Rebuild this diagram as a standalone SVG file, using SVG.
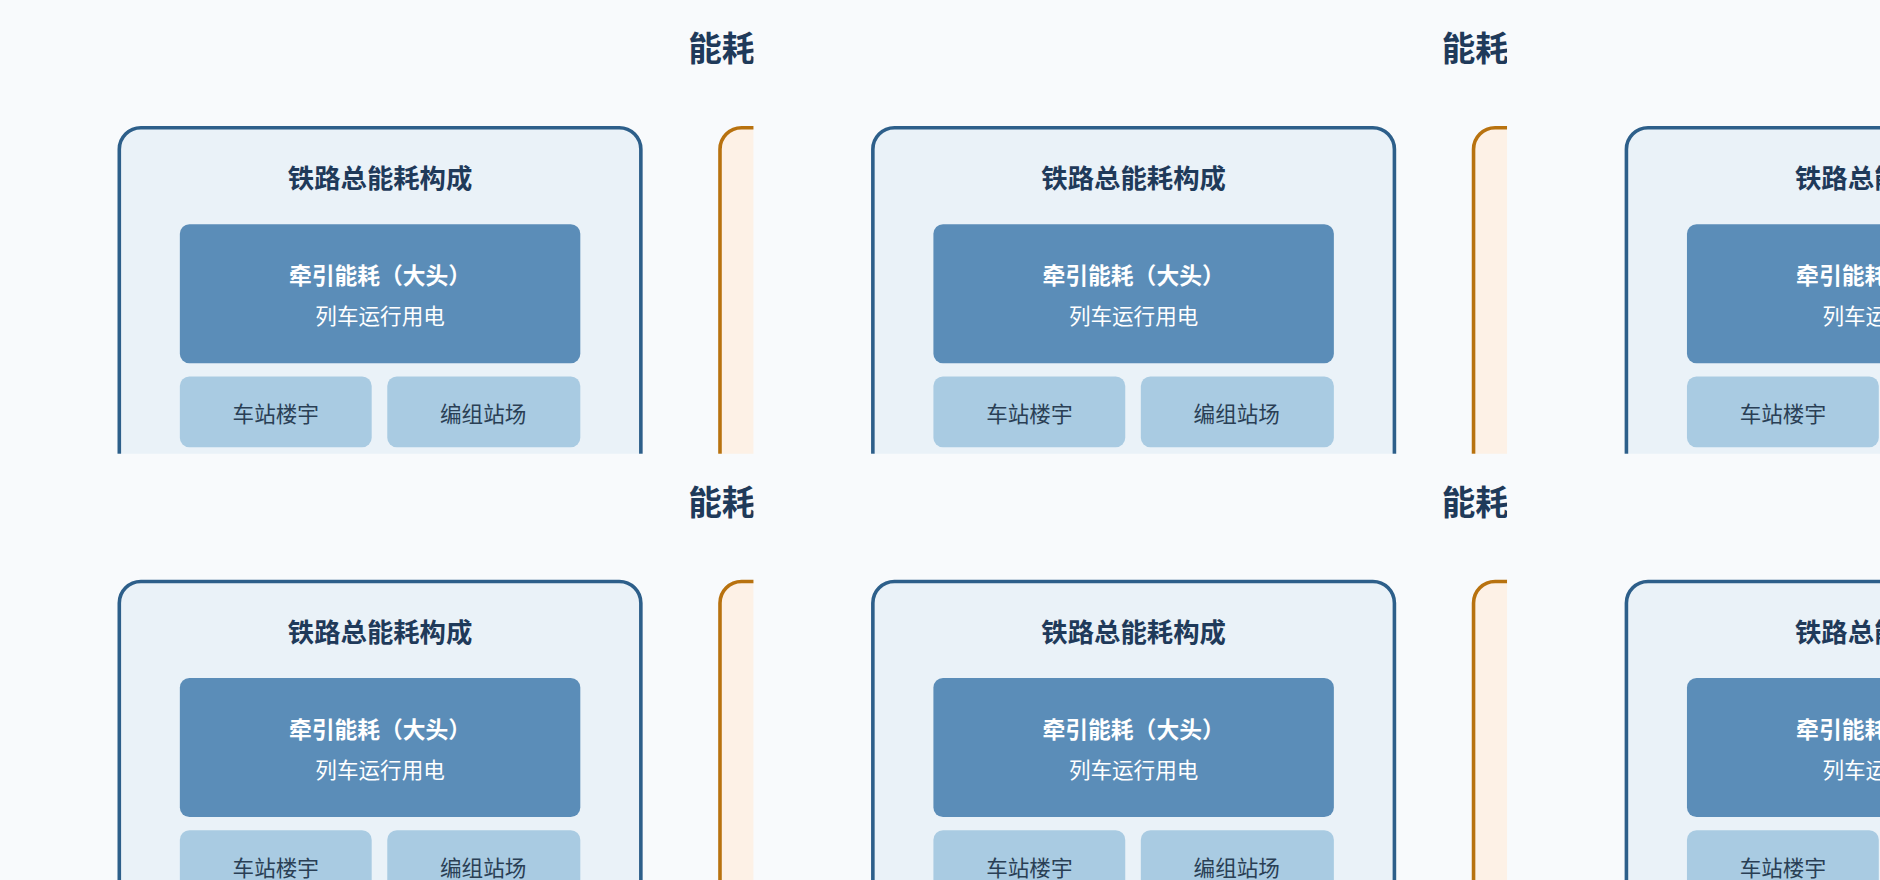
<svg xmlns="http://www.w3.org/2000/svg" xmlns:xlink="http://www.w3.org/1999/xlink" width="1880" height="880" viewBox="0 0 1880 880">
<style>
text{font-family:"Noto Sans CJK SC","Noto Sans",sans-serif;text-anchor:middle}
.t{font-size:28px;font-weight:700;fill:#1f3a5a;text-anchor:start}
.bt{font-size:22px;font-weight:700;fill:#1f3a5a}
.dw{fill:#fff}
.lt{font-size:18px;fill:#2a3f55}
</style>
<defs>
<clipPath id="tc"><rect x="0" y="0" width="628.5" height="378.5"/></clipPath>
<g id="tile">
<g clip-path="url(#tc)">
<rect x="0" y="0" width="628.5" height="378.5" fill="#f8fafc"/>
<g id="title"><text class="t" x="574" y="51">能耗</text></g>
<g id="main">
<rect x="99.5" y="106.5" width="435" height="400" rx="18" fill="#eaf2f8" stroke="#2d5f8a" stroke-width="3"/>
<text class="bt" x="317" y="157">铁路总能耗构成</text>
</g>
<g id="traction">
<rect x="150" y="187" width="334" height="116" rx="8" fill="#5b8db8"/>
<text class="dw" x="317" y="237" font-size="19" font-weight="700">牵引能耗（大头）</text>
<text class="dw" x="317" y="270" font-size="18">列车运行用电</text>
</g>
<g id="station">
<rect x="150" y="314" width="160" height="59" rx="8" fill="#a9cbe2"/>
<text class="lt" x="230" y="352">车站楼宇</text>
</g>
<g id="yard">
<rect x="323" y="314" width="161" height="59" rx="8" fill="#a9cbe2"/>
<text class="lt" x="403" y="352">编组站场</text>
</g>
<g id="other">
<rect x="600.5" y="106.5" width="200" height="400" rx="18" fill="#fdf1e6" stroke="#b8720f" stroke-width="3"/>
</g>
<g id="connectors"/>
</g>
</g>
</defs>
<rect width="1880" height="880" fill="#f8fafc"/>
<g transform="scale(1.19898)">
<use xlink:href="#tile" x="0" y="0"/>
<use xlink:href="#tile" x="628.5" y="0"/>
<use xlink:href="#tile" x="1257" y="0"/>
<use xlink:href="#tile" x="0" y="378.5"/>
<use xlink:href="#tile" x="628.5" y="378.5"/>
<use xlink:href="#tile" x="1257" y="378.5"/>
</g>
</svg>
